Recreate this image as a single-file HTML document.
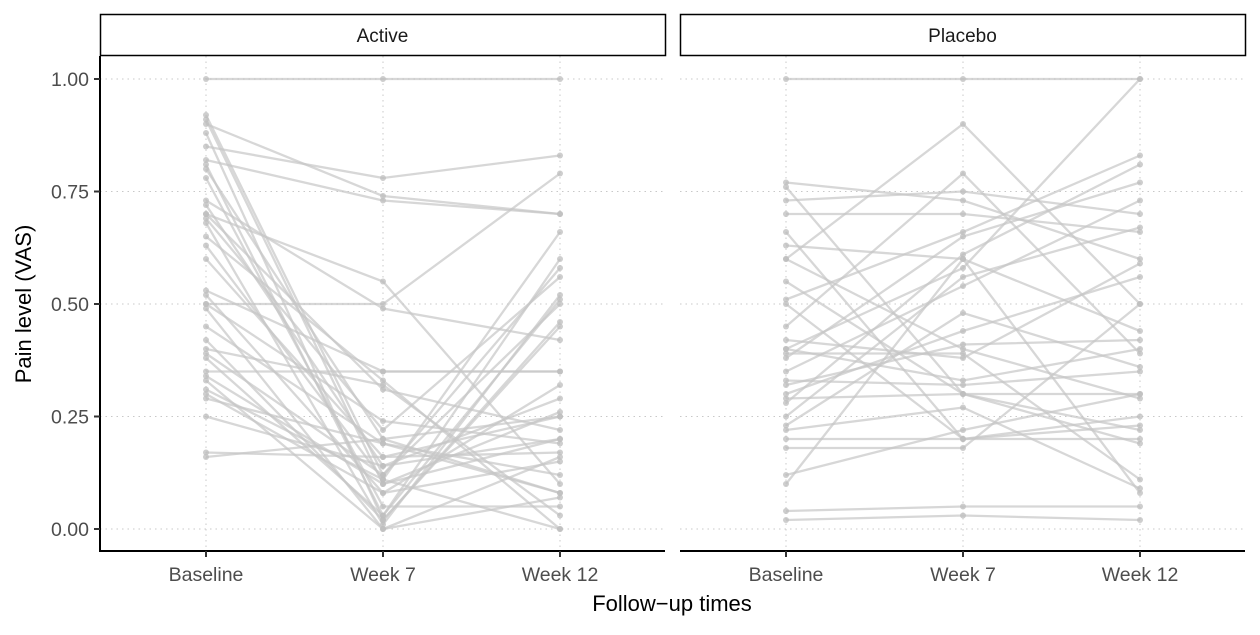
<!DOCTYPE html>
<html><head><meta charset="utf-8"><style>
body{margin:0;background:#fff;}
svg text{font-family:"Liberation Sans",sans-serif;}
</style></head><body>
<svg id="chart" width="1260" height="630" xmlns="http://www.w3.org/2000/svg"></svg>
<script>
const timepoints = ["Baseline","Week 7","Week 12"];
const yTicks = [0,0.25,0.5,0.75,1.0];
const yTickLabels = ["0.00","0.25","0.50","0.75","1.00"];
const panels = ["Active","Placebo"];
const activeBaseline = [1.0,0.92,0.91,0.90,0.88,0.85,0.82,0.81,0.80,0.78,0.73,0.72,0.70,0.70,0.69,0.68,0.65,0.63,0.60,0.53,0.52,0.50,0.50,0.49,0.45,0.42,0.40,0.39,0.38,0.35,0.34,0.33,0.31,0.30,0.29,0.25,0.17,0.16];
const activeWeek7 = [1.0,0.12,0.10,0.74,0.02,0.78,0.73,0.03,0.20,0.05,0.49,0.14,0.55,0.31,0.22,0.01,0.33,0.11,0.16,0.35,0.08,0.50,0.24,0.0,0.19,0.02,0.32,0.12,0.03,0.35,0.10,0.0,0.11,0.08,0.19,0.14,0.16,0.20];
const activeWeek12 = [1.0,0.50,0.20,0.70,0.45,0.83,0.70,0.60,0.08,0.05,0.42,0.29,0.10,0.22,0.56,0.52,0.0,0.66,0.25,0.35,0.15,0.79,0.19,0.07,0.12,0.46,0.03,0.58,0.51,0.35,0.26,0.16,0.0,0.32,0.08,0.20,0.17,0.25];
const placeboBaseline = [1.0,0.77,0.76,0.73,0.70,0.66,0.63,0.60,0.60,0.55,0.51,0.50,0.45,0.42,0.40,0.40,0.39,0.38,0.35,0.33,0.32,0.30,0.29,0.28,0.25,0.23,0.22,0.20,0.18,0.12,0.10,0.04,0.02];
const placeboWeek7 = [1.0,0.73,0.30,0.75,0.70,0.20,0.60,0.40,0.90,0.30,0.66,0.20,0.79,0.38,0.58,0.33,0.39,0.65,0.54,0.32,0.41,0.44,0.30,0.61,0.56,0.48,0.27,0.20,0.18,0.22,0.60,0.05,0.03];
const placeboWeek12 = [1.0,0.60,0.22,0.70,0.66,0.25,0.44,0.29,0.50,0.19,0.83,0.20,0.39,0.59,1.0,0.40,0.11,0.77,0.73,0.35,0.42,0.56,0.30,0.81,0.67,0.36,0.09,0.23,0.50,0.30,0.08,0.05,0.02];
const series = [[activeBaseline,activeWeek7,activeWeek12],[placeboBaseline,placeboWeek7,placeboWeek12]];

const NS="http://www.w3.org/2000/svg";
const svgEl=document.getElementById('chart');
function mk(tag,attrs,parent){const e=document.createElementNS(NS,tag);for(const k in attrs)e.setAttribute(k,attrs[k]);(parent||svgEl).appendChild(e);return e;}
const panelX=[100,680], panelW=565, plotTop=56, plotBottom=551;
const yScale=v=>529-v*450;
function xScale(p,i){return panelX[p]+106+i*177;}

panels.forEach((name,p)=>{
  const x0=panelX[p];
  const g=mk('g',{});
  
  
  yTicks.forEach(t=>{
    const l=mk('line',{x1:x0,x2:x0+panelW,y1:yScale(t),y2:yScale(t),stroke:'#c8c8c8','stroke-width':1,'stroke-dasharray':'1.5 4'},g);
    
    
  });
  timepoints.forEach((tp,i)=>{
    const l=mk('line',{x1:xScale(p,i),x2:xScale(p,i),y1:plotTop,y2:plotBottom,stroke:'#c8c8c8','stroke-width':1,'stroke-dasharray':'1.5 4'},g);
    
    
  });
  const s=series[p];
  for(let k=0;k<s[0].length;k++){
    const pts=[0,1,2].map(i=>xScale(p,i)+','+yScale(s[i][k])).join(' ');
    const pl=mk('polyline',{points:pts,fill:'none',stroke:'#c6c6c6','stroke-opacity':0.7,'stroke-width':2.3},g);
    
    
    for(let i=0;i<3;i++){
      const c=mk('circle',{cx:xScale(p,i),cy:yScale(s[i][k]),r:3,fill:'#bdbdbd','fill-opacity':0.75},g);
      
      
    }
  }
  const strip=mk('rect',{x:x0+0.5,y:14.5,width:panelW,height:41,fill:'#fff',stroke:'#000','stroke-width':1.5},g);
  
  
  const st=mk('text',{x:x0+panelW/2,y:42,'text-anchor':'middle','font-size':19,fill:'#1a1a1a'},g);
  st.textContent=name;
  
  
  const ax=mk('line',{x1:x0,x2:x0+panelW,y1:551,y2:551,stroke:'#000','stroke-width':2},g);
  
  
  timepoints.forEach((tp,i)=>{
    const tk=mk('line',{x1:xScale(p,i),x2:xScale(p,i),y1:551,y2:557,stroke:'#333','stroke-width':2},g);
    
    
    const t=mk('text',{x:xScale(p,i),y:581,'text-anchor':'middle','font-size':19.5,fill:'#4d4d4d'},g);
    t.textContent=tp;
    
    
  });
});
const yl=mk('line',{x1:100,x2:100,y1:56,y2:552,stroke:'#000','stroke-width':2});


yTicks.forEach((t,i)=>{
  const tk=mk('line',{x1:94,x2:100,y1:yScale(t),y2:yScale(t),stroke:'#333','stroke-width':2});
  
  
  const tx=mk('text',{x:89,y:yScale(t)+7,'text-anchor':'end','font-size':19.5,fill:'#4d4d4d'});
  tx.textContent=yTickLabels[i];
  
  
});
const xt=mk('text',{x:672,y:611,'text-anchor':'middle','font-size':22,fill:'#000'});
xt.textContent='Follow\u2212up times';


const yt=mk('text',{x:0,y:0,'text-anchor':'middle','font-size':22,fill:'#000',transform:'translate(31,304) rotate(-90)'});
yt.textContent='Pain level (VAS)';


</script>
</body></html>
